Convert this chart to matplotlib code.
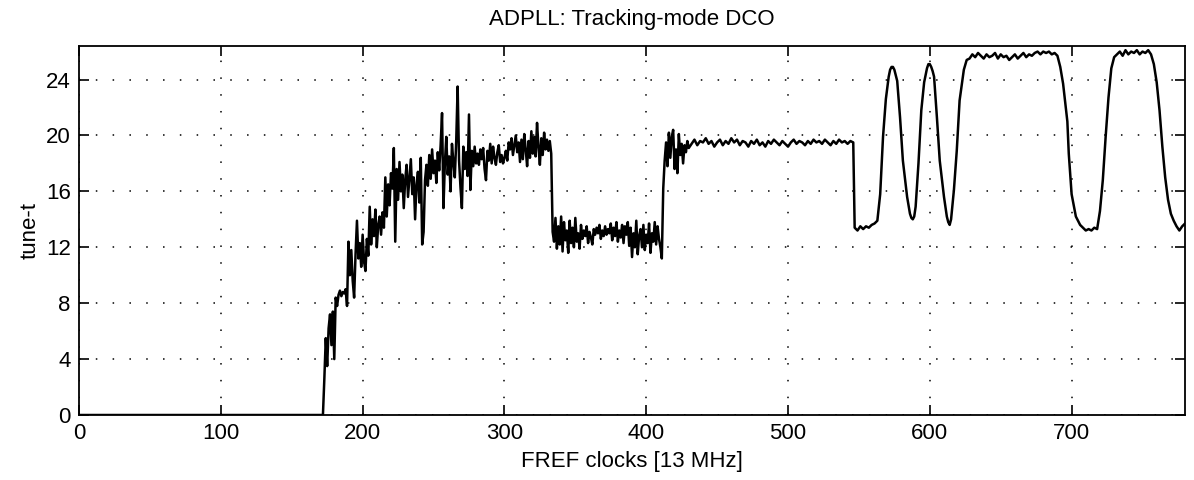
import numpy as np
import matplotlib
matplotlib.use("Agg")
import matplotlib.pyplot as plt

plt.rcParams['font.family'] = ['Liberation Sans', 'DejaVu Sans']

# idle part before the loop starts
idle_clk = [0, 172]
idle_val = [0, 0]

# acquisition / noisy tracking, one value per FREF clock from 173
acq_start = 173
acq_val = [
    2.6, 5.5, 3.5, 6.2, 7.2, 5.0, 7.4,
    4.0, 8.4, 7.8, 8.6, 8.9, 8.5, 8.8, 8.7, 9.0, 7.8,
    12.4, 10.0, 11.8, 9.6, 8.4, 11.5, 13.9, 11.2, 12.3, 10.6,
    12.9, 11.0, 10.3, 12.6, 11.4, 14.9, 12.2, 14.0, 12.8, 14.7,
    12.0, 13.6, 14.2, 12.9, 14.5, 13.4, 17.0, 14.2, 16.5, 15.0,
    17.3, 16.2, 19.1, 12.4, 17.6, 15.4, 18.1, 16.0, 17.2, 14.8,
    16.8, 17.9, 15.6, 16.9, 18.3, 15.8, 17.0, 14.0, 16.5, 17.4,
    15.2, 18.4, 12.2, 13.1, 16.8, 17.9, 16.4, 18.6, 16.9, 19.0,
    17.3, 18.2, 16.6, 18.8, 17.5, 19.3, 21.6, 14.8, 18.0, 19.9,
    17.2, 18.5, 16.0, 19.4, 18.1, 17.0, 19.6, 23.5, 18.2, 16.3,
    14.8, 19.2, 17.6, 18.8, 17.1, 21.5, 16.1, 18.9, 17.8, 19.2,
    18.0, 18.7, 17.9, 19.0, 18.3, 19.1, 17.6, 16.8, 18.9, 18.2,
    19.4, 18.0, 19.2, 18.4, 17.9, 18.8, 19.3, 18.1, 18.6, 18.0,
    18.4, 18.9, 18.2, 19.5, 19.0, 19.8, 18.6, 19.3, 20.0, 18.8,
    19.5, 18.1, 19.7, 18.3, 20.1, 19.0, 17.8, 19.6, 18.4, 20.3,
    18.7, 19.9, 18.5, 20.9, 19.2, 17.9, 19.8, 18.6, 20.2, 19.0,
    19.7, 18.9, 19.6, 18.7, 13.1, 12.4, 14.1, 11.9, 13.5, 12.2,
    14.2, 11.7, 13.8, 12.5, 13.2, 11.6, 13.9, 12.3, 13.4, 12.0,
    14.1, 12.4, 13.0, 11.9, 13.6, 12.6, 13.2, 12.8, 13.5, 12.3,
    13.1, 12.7, 12.2, 13.3, 12.9, 13.4, 13.0, 13.6, 12.6, 13.2,
    12.8, 13.5, 12.9, 13.3, 13.0, 13.7, 12.5, 13.4, 12.8, 13.8,
    12.4, 13.2, 12.7, 13.6, 12.3, 13.5, 12.9, 13.8, 12.1, 13.4,
    11.3, 13.0, 12.0, 13.9, 11.5, 12.8, 13.3, 12.0, 13.6, 11.8,
    12.9, 12.3, 13.7, 11.6, 13.0, 12.4, 13.8, 12.2, 13.5, 12.6,
    12.0, 11.2, 16.2, 18.2, 19.5, 17.8, 20.2, 18.4, 19.9, 20.4,
    17.6, 19.0, 17.3, 20.1, 18.6, 19.4, 18.0, 19.3, 18.8, 19.6,
    19.1,
]

# settled tracking, every 2nd clock from 432
settle_start = 432
settle_val = [
    19.4, 19.7, 19.3, 19.6, 19.5, 19.8, 19.4, 19.6, 19.2, 19.5,
    19.7, 19.3, 19.6, 19.4, 19.8, 19.5, 19.7, 19.3, 19.6, 19.5,
    19.2, 19.6, 19.4, 19.7, 19.3, 19.5, 19.2, 19.6, 19.4, 19.7,
    19.5, 19.3, 19.6, 19.4, 19.2, 19.5, 19.7, 19.4, 19.6, 19.5,
    19.3, 19.6, 19.4, 19.7, 19.5, 19.6, 19.4, 19.7, 19.5, 19.3,
    19.6, 19.4, 19.7, 19.5, 19.6, 19.4, 19.6, 19.5,
]

# modulation swings
swing_clk = [547, 549, 551, 553, 555, 557, 559, 561, 563, 565, 567, 569, 571,
             572, 573, 574, 575, 576, 577, 579, 581, 584, 586, 587, 588, 589,
             590, 592, 594, 596, 598, 599, 600, 601, 602, 603, 605, 607, 610,
             612, 613, 614, 615, 617, 619, 621, 624, 626]
swing_val = [13.4, 13.2, 13.5, 13.3, 13.5, 13.4, 13.6, 13.7, 13.9, 15.8, 19.9, 22.6, 24.2,
             24.7, 24.9, 24.9, 24.7, 24.3, 23.9, 21.3, 18.2, 15.6, 14.4, 14.1, 14.0, 14.2,
             14.9, 18.0, 21.8, 23.8, 24.8, 25.1, 25.1, 24.9, 24.6, 24.2, 21.3, 18.2, 15.6,
             14.2, 13.8, 13.6, 14.0, 16.1, 18.9, 22.5, 24.7, 25.4]

# upper plateau, every 2nd clock from 628
high_start = 628
high_val = [
    25.5, 25.8, 25.6, 25.9, 25.7, 25.5, 25.8, 25.6, 25.7, 25.9,
    25.5, 25.8, 25.6, 25.7, 25.4, 25.6, 25.8, 25.5, 25.7, 25.9,
    25.6, 25.8, 25.7, 25.9, 26.0, 25.8, 26.0, 25.9, 26.0, 25.8,
    25.9, 25.7,
]

tail_clk = [692, 694, 697, 698, 700, 703, 706, 708, 710, 712, 714, 716, 718,
            720, 722, 724, 726, 728, 730, 732, 734, 736, 738, 740, 742, 744,
            746, 748, 750, 752, 754, 756, 758, 760, 762, 764, 766, 768, 770,
            772, 774, 776, 778, 780]
tail_val = [24.9, 23.7, 21.0, 18.7, 15.8, 14.2, 13.6, 13.4, 13.2, 13.3, 13.2, 13.4, 13.3,
            14.6, 16.8, 19.9, 22.7, 24.8, 25.6, 25.8, 26.0, 25.7, 26.1, 25.8, 26.0, 25.9,
            26.1, 25.8, 26.0, 25.9, 26.1, 25.8, 25.1, 23.8, 21.8, 19.2, 17.0, 15.4, 14.4,
            13.9, 13.5, 13.2, 13.5, 13.7]

clk = np.concatenate([
    idle_clk,
    acq_start + np.arange(len(acq_val)),
    settle_start + 2 * np.arange(len(settle_val)),
    swing_clk,
    high_start + 2 * np.arange(len(high_val)),
    tail_clk,
])
tune = np.concatenate([idle_val, acq_val, settle_val, swing_val, high_val, tail_val])

fig = plt.figure(figsize=(11.94, 4.8), dpi=100)
ax = fig.add_axes([0.0662, 0.1354, 0.9263, 0.7688])
ax.plot(clk, tune, color="black", lw=1.8)

ax.set_xlim(0, 780)
ax.set_ylim(0, 26.4)
ax.set_xticks(np.arange(0, 701, 100))
ax.set_yticks(np.arange(0, 25, 4))
ax.grid(True, color="black", linestyle=(0, (1, 10)), linewidth=1.1)
ax.tick_params(direction="in", length=7, width=1.2, top=True, right=True,
               labelsize=16, pad=6, colors="black")
for s in ax.spines.values():
    s.set_linewidth(1.3)

ax.set_title("ADPLL: Tracking-mode DCO", fontsize=16, pad=15)
ax.set_xlabel("FREF clocks [13 MHz]", fontsize=16, labelpad=5)
ax.set_ylabel("tune-t", fontsize=16, labelpad=4)

fig.savefig("out.png", dpi=100)
